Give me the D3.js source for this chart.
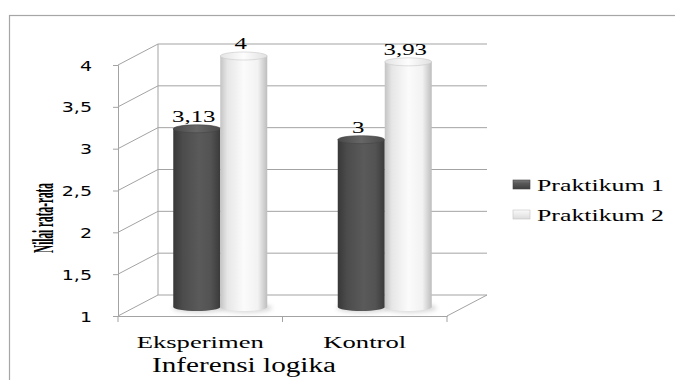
<!DOCTYPE html>
<html>
<head>
<meta charset="utf-8">
<script src="https://cdn.jsdelivr.net/npm/d3@7"></script>
<style>
  html, body { margin: 0; padding: 0; background: #fff; }
  svg { display: block; }
</style>
</head>
<body>
<svg id="chart" width="675" height="380"></svg>
<script>
// Mean scores for logical inference, two practicum sessions per group
const categories = ["Eksperimen", "Kontrol"];
const series = ["Praktikum 1", "Praktikum 2"];
const praktikum1 = [3.13, 3];
const praktikum2 = [4, 3.93];
const valueLabels1 = ["3,13", "3"];
const valueLabels2 = ["4", "3,93"];
const yTicks = [1, 1.5, 2, 2.5, 3, 3.5, 4];
const yTickLabels = ["1", "1,5", "2", "2,5", "3", "3,5", "4"];
const xTitle = "Inferensi logika";
const yTitle = "Nilai rata-rata";

const svg = d3.select("#chart");
const serif = "'Liberation Serif', 'Times New Roman', serif";
const sans = "'DejaVu Sans', Verdana, sans-serif";
const gridColor = "#a3a3a3";

// widen text horizontally by factor k
function stretch(sel, k) {
  sel.each(function () {
    const w = this.getComputedTextLength();
    d3.select(this).attr("textLength", w * k).attr("lengthAdjust", "spacingAndGlyphs");
  });
}

// outer chart frame (runs past the right and bottom edges)
svg.append("rect")
  .attr("x", 9.5).attr("y", 15.5).attr("width", 720).attr("height", 420)
  .attr("fill", "#fff").attr("stroke", "#a6a6a6").attr("stroke-width", 1.2);

// scales for the front plane of the 3D box
const x0 = d3.scaleBand().domain(categories).range([118, 447]);
const x1 = d3.scaleBand().domain(series).range([0, x0.bandwidth()])
  .paddingInner(0).paddingOuter(0.75);
const y = d3.scaleLinear().domain([1, 4]).range([316, 65]);

const depthX = 40, depthY = -21;   // back-wall offset
const midX = 20, midY = -9;        // bars sit in the middle of the depth

const grid = svg.append("g").attr("stroke", gridColor).attr("stroke-width", 1).attr("fill", "none");

// back wall horizontal gridlines
grid.selectAll("line.back").data(yTicks).join("line")
  .attr("x1", 118 + depthX).attr("x2", 447 + depthX)
  .attr("y1", d => y(d) + depthY).attr("y2", d => y(d) + depthY);

// side wall diagonals
grid.selectAll("line.side").data(yTicks).join("line")
  .attr("x1", 118).attr("x2", 118 + depthX)
  .attr("y1", d => y(d)).attr("y2", d => y(d) + depthY);

// back-left vertical edge
grid.append("line")
  .attr("x1", 118 + depthX).attr("x2", 118 + depthX)
  .attr("y1", y(1) + depthY).attr("y2", y(4) + depthY);

// floor right diagonal
grid.append("line")
  .attr("x1", 447).attr("x2", 447 + depthX)
  .attr("y1", y(1)).attr("y2", y(1) + depthY);

// front y axis
const yAxis = d3.axisLeft(y).tickValues(yTicks).tickSize(5).tickPadding(20)
  .tickFormat((d, i) => yTickLabels[i]);
const gy = svg.append("g").attr("transform", "translate(118,0)").call(yAxis);
gy.select(".domain").attr("stroke", gridColor);
gy.selectAll(".tick line").attr("stroke", gridColor);
gy.selectAll(".tick text")
  .attr("font-family", sans).attr("font-size", 14).attr("fill", "#000")
  .attr("x", -26).attr("dy", "0.36em");
stretch(gy.selectAll(".tick text"), 1.36);

// front x axis
const gx = svg.append("g").attr("transform", `translate(0,${y(1)})`)
  .call(d3.axisBottom(x0).tickSize(0).tickPadding(0));
gx.select(".domain").attr("stroke", gridColor);
gx.selectAll(".tick text").remove();
gx.selectAll(".tick line").remove();
const xTickPos = [118, ...categories.map(c => x0(c) + x0.bandwidth())];
gx.selectAll("line.xt").data(xTickPos).join("line")
  .attr("x1", d => d).attr("x2", d => d).attr("y1", 0).attr("y2", 6)
  .attr("stroke", gridColor);

// category labels
const catText = svg.selectAll("text.cat").data(categories).join("text")
  .attr("x", d => x0(d) + x0.bandwidth() / 2)
  .attr("y", 348)
  .attr("text-anchor", "middle")
  .attr("font-family", serif).attr("font-size", 17.5).attr("fill", "#000")
  .text(d => d);
stretch(catText, 1.52);

// axis titles
const xt = svg.append("text")
  .attr("x", 244).attr("y", 372).attr("text-anchor", "middle")
  .attr("font-family", serif).attr("font-size", 20).attr("fill", "#000")
  .text(xTitle);
stretch(xt, 1.46);

svg.append("text")
  .attr("transform", "translate(53,218) rotate(-90)")
  .attr("text-anchor", "middle")
  .attr("font-family", serif).attr("font-weight", "bold")
  .attr("font-size", 29).attr("fill", "#000")
  .attr("textLength", 70).attr("lengthAdjust", "spacingAndGlyphs")
  .text(yTitle);

// cylinder gradients
const defs = svg.append("defs");
function hGrad(id, stops) {
  const g = defs.append("linearGradient").attr("id", id)
    .attr("x1", "0%").attr("x2", "100%").attr("y1", "0%").attr("y2", "0%");
  stops.forEach(([o, c]) => g.append("stop").attr("offset", o).attr("stop-color", c));
}
function vGrad(id, stops) {
  const g = defs.append("linearGradient").attr("id", id)
    .attr("x1", "0%").attr("x2", "0%").attr("y1", "0%").attr("y2", "100%");
  stops.forEach(([o, c]) => g.append("stop").attr("offset", o).attr("stop-color", c));
}
hGrad("body1", [[0, "#383838"], [0.2, "#4c4c4c"], [0.55, "#5a5a5a"], [0.8, "#535353"], [1, "#3a3a3a"]]);
hGrad("body2", [[0, "#c4c4c4"], [0.15, "#e6e6e6"], [0.5, "#fbfbfb"], [0.8, "#f2f2f2"], [1, "#bdbdbd"]]);
hGrad("cap1", [[0, "#4a4a4a"], [0.5, "#666"], [1, "#4a4a4a"]]);
hGrad("cap2", [[0, "#e4e4e4"], [0.5, "#fdfdfd"], [1, "#e0e0e0"]]);
vGrad("leg1", [[0, "#7a7a7a"], [0.35, "#5a5a5a"], [1, "#3e3e3e"]]);
vGrad("leg2", [[0, "#fafafa"], [1, "#dcdcdc"]]);
const shadow = defs.append("filter").attr("id", "soft").attr("x", "-20%").attr("y", "-200%").attr("width", "140%").attr("height", "500%");
shadow.append("feGaussianBlur").attr("stdDeviation", 2);

const bars = [];
categories.forEach((c, i) => {
  bars.push({ cat: c, s: series[0], v: praktikum1[i], label: valueLabels1[i], body: "body1", cap: "cap1", rim: "#444" });
  bars.push({ cat: c, s: series[1], v: praktikum2[i], label: valueLabels2[i], body: "body2", cap: "cap2", rim: "#c8c8c8" });
});

const ry = 4;
const barG = svg.append("g");
// floor shadows
barG.selectAll("ellipse.shadow").data(bars).join("ellipse")
  .attr("cx", d => x0(d.cat) + x1(d.s) + midX + x1.bandwidth() / 2 + 2)
  .attr("cy", y(1) + midY + 1)
  .attr("rx", x1.bandwidth() / 2 + 3).attr("ry", ry + 1)
  .attr("fill", "#bbb").attr("opacity", 0.55).attr("filter", "url(#soft)");

const bar = barG.selectAll("g.bar").data(bars).join("g");
bar.append("path")
  .attr("d", d => {
    const l = x0(d.cat) + x1(d.s) + midX, w = x1.bandwidth();
    const top = y(d.v) + midY, bot = y(1) + midY;
    return `M${l},${top} L${l},${bot} A${w / 2},${ry} 0 0 0 ${l + w},${bot} L${l + w},${top} Z`;
  })
  .attr("fill", d => `url(#${d.body})`);
bar.append("ellipse")
  .attr("cx", d => x0(d.cat) + x1(d.s) + midX + x1.bandwidth() / 2)
  .attr("cy", d => y(d.v) + midY)
  .attr("rx", x1.bandwidth() / 2).attr("ry", ry)
  .attr("fill", d => `url(#${d.cap})`)
  .attr("stroke", d => d.rim).attr("stroke-width", 0.6);

// value labels
const vl = svg.selectAll("text.val").data(bars).join("text")
  .attr("x", d => x0(d.cat) + x1(d.s) + midX + x1.bandwidth() / 2 - 3)
  .attr("y", d => y(d.v) + midY - 7)
  .attr("text-anchor", "middle")
  .attr("font-family", serif).attr("font-size", 16).attr("fill", "#000")
  .text(d => d.label);
stretch(vl, 1.55);

// legend
const legend = svg.append("g");
const lg = legend.selectAll("g").data(series).join("g")
  .attr("transform", (d, i) => `translate(513,${180 + i * 30})`);
lg.append("rect")
  .attr("width", 17).attr("height", 9)
  .attr("fill", (d, i) => `url(#leg${i + 1})`)
  .attr("stroke", (d, i) => i === 0 ? "#444" : "#c4c4c4").attr("stroke-width", 0.6);
const lt = lg.append("text")
  .attr("x", 24).attr("y", 11)
  .attr("font-family", serif).attr("font-size", 16).attr("fill", "#000")
  .text(d => d);
lt.each(function () {
  d3.select(this).attr("textLength", 127).attr("lengthAdjust", "spacingAndGlyphs");
});
</script>
</body>
</html>
